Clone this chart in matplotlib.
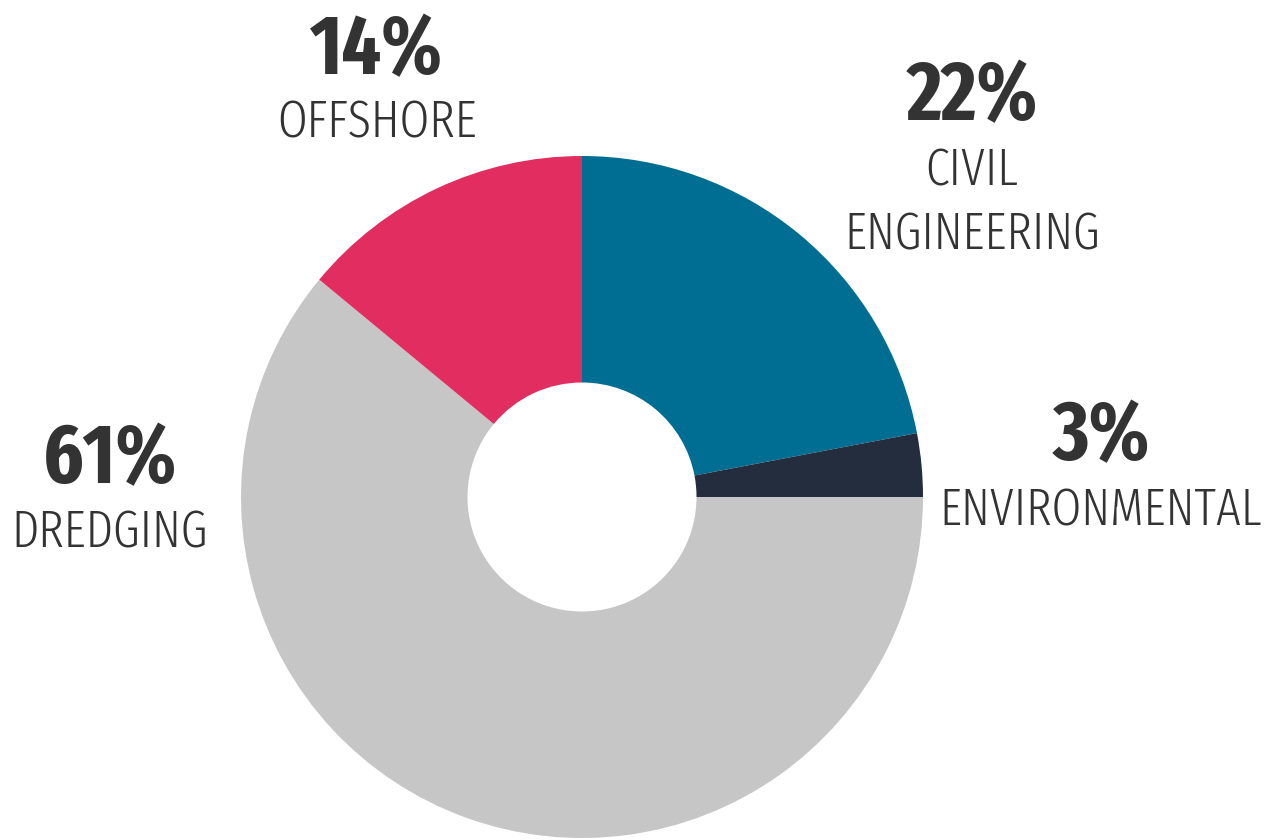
import os
import matplotlib
matplotlib.use("Agg")
import matplotlib.pyplot as plt
from matplotlib import font_manager
from matplotlib.font_manager import FontProperties

categories = ["CIVIL\nENGINEERING", "ENVIRONMENTAL", "DREDGING", "OFFSHORE"]
values = [22, 3, 61, 14]
colors = ["#006E93", "#232D3D", "#C6C6C6", "#E12D5F"]


def _weight(w):
    if isinstance(w, str):
        return font_manager.weight_dict.get(w, 400)
    return int(w)


def find_condensed(target_w):
    best, best_cost = None, None
    for f in font_manager.fontManager.ttflist:
        s = (f.name + " " + os.path.basename(f.fname)).lower()
        s = s.replace("-", "").replace(" ", "").replace("_", "")
        if "mono" in s or "cjk" in s or "italic" in s or "oblique" in s:
            continue
        if f.style != "normal":
            continue
        if "serif" in s and "sans" not in s:
            continue
        if "extracondensed" in s:
            st = 0
        elif "semicondensed" in s:
            st = 2
        elif "ultracondensed" in s:
            st = 3
        elif "condensed" in s or "narrow" in s or f.stretch in ("condensed",):
            st = 1
        else:
            continue
        cost = st * 1000 + abs(_weight(f.weight) - target_w)
        if best_cost is None or cost < best_cost:
            best, best_cost = f.fname, cost
    return best


bold_path = find_condensed(700)
light_path = find_condensed(300)


def fp(path, weight):
    if path:
        return FontProperties(fname=path)
    return FontProperties(family="DejaVu Sans", weight=weight)


W, H = 1268, 840
fig = plt.figure(figsize=(W / 100, H / 100), dpi=100)
fig.patch.set_facecolor("white")

cx, cy, R = 582, 497, 341
ax = fig.add_axes([(cx - R) / W, (H - cy - R) / H, 2 * R / W, 2 * R / H])
ax.pie(values, colors=colors, startangle=90, counterclock=False, radius=1,
       wedgeprops=dict(width=(R - 114.5) / R, linewidth=0))
ax.set_xlim(-1, 1)
ax.set_ylim(-1, 1)
ax.set_aspect("equal")
ax.axis("off")

TXT = "#333333"
renderer = fig.canvas.get_renderer()


def fit_size(text, prop, target_px, max_size):
    t = fig.text(0, 0, text, fontproperties=prop)
    t.set_fontsize(40)
    w = t.get_window_extent(renderer).width
    t.remove()
    return min(max_size, 40 * target_px / w)


pct_prop = fp(bold_path, "bold")
lbl_prop = fp(light_path, "light")
pct_size = fit_size("14%", pct_prop, 138, 60)
lbl_size = fit_size("ENVIRONMENTAL", lbl_prop, 322, 46)


def label(x, y_pct, y_lbl, idx):
    p = pct_prop.copy()
    p.set_size(pct_size)
    fig.text(x / W, 1 - y_pct / H, f"{values[idx]}%", ha="center", va="baseline",
             fontproperties=p, color=TXT)
    lines = categories[idx].split("\n")
    for i, ln in enumerate(lines):
        q = lbl_prop.copy()
        q.set_size(lbl_size)
        fig.text(x / W, 1 - y_lbl[i] / H, ln, ha="center", va="baseline",
                 fontproperties=q, color=TXT)


label(377, 74, [138], 3)
label(972, 120, [185, 250], 0)
label(1101, 460, [525], 1)
label(110, 483, [548], 2)

fig.savefig("out.png", dpi=100, facecolor="white")
